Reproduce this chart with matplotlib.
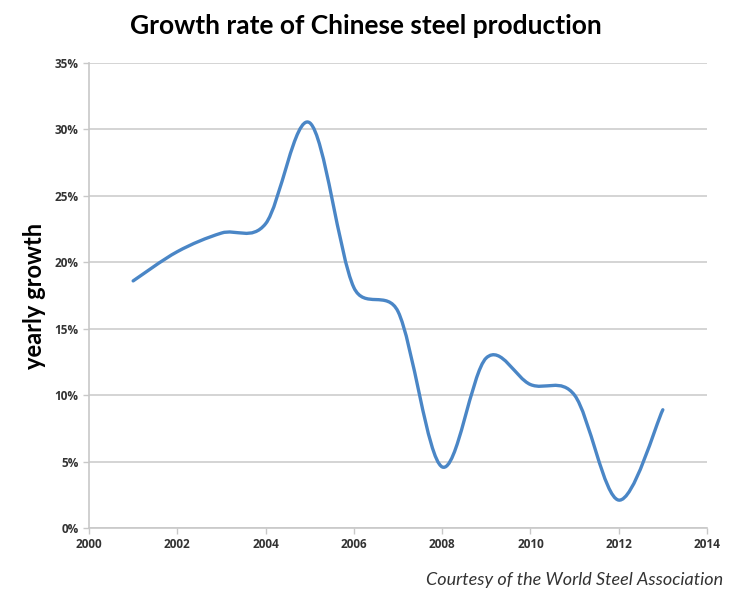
import matplotlib
matplotlib.use('Agg')
import matplotlib.pyplot as plt
import numpy as np
from matplotlib.path import Path
from matplotlib.patches import PathPatch
from matplotlib.ticker import FuncFormatter

years = [2001, 2002, 2003, 2004, 2005, 2006, 2007, 2008, 2009, 2010, 2011, 2012, 2013]
growth = [18.6, 20.8, 22.2, 22.9, 30.5, 18.1, 16.3, 4.6, 12.8, 10.8, 10.0, 2.1, 8.9]

title = 'Growth rate of Chinese steel production'
y_label = 'yearly growth'
credit = 'Courtesy of the World Steel Association'


def smooth_path(ax, xs, ys, k=1 / 6):
    # Excel-style smoothed line: bezier handles capped at half the segment
    # length (measured on screen)
    data = np.column_stack([xs, ys]).astype(float)
    scr = ax.transData.transform(data)
    n = len(data)
    verts = [tuple(data[0])]
    codes = [Path.MOVETO]
    for i in range(n - 1):
        i0, i1, i2, i3 = max(i - 1, 0), i, i + 1, min(i + 2, n - 1)
        d12 = np.hypot(*(scr[i2] - scr[i1]))
        d02 = np.hypot(*(scr[i2] - scr[i0]))
        d13 = np.hypot(*(scr[i3] - scr[i1]))
        f0 = k if d02 * k < d12 / 2 else d12 / 2 / d02
        f1 = k if d13 * k < d12 / 2 else d12 / 2 / d13
        c1 = data[i1] + (data[i2] - data[i0]) * f0
        c2 = data[i2] - (data[i3] - data[i1]) * f1
        verts += [tuple(c1), tuple(c2), tuple(data[i2])]
        codes += [Path.CURVE4] * 3
    return Path(verts, codes)


fig = plt.figure(figsize=(7.32, 5.95), dpi=100)
ax = fig.add_axes([0.1216, 0.1126, 0.8442, 0.7815])

ax.set_xlim(2000, 2014)
ax.set_ylim(0, 35)
ax.set_xticks(range(2000, 2015, 2))
ax.set_yticks(range(0, 36, 5))
ax.yaxis.set_major_formatter(FuncFormatter(lambda v, p: '{:d}%'.format(int(v))))

ax.add_patch(PathPatch(smooth_path(ax, years, growth), facecolor='none',
                       edgecolor='#4a86c6', linewidth=2.4,
                       capstyle='round', joinstyle='round', zorder=3))

ax.grid(axis='y', color='#d4d4d4', linewidth=1.4)
ax.set_axisbelow(True)
for s in ['top', 'right']:
    ax.spines[s].set_visible(False)
for s in ['left', 'bottom']:
    ax.spines[s].set_color('#c8c8c8')
    ax.spines[s].set_linewidth(1.2)
ax.tick_params(axis='both', direction='out', length=4, width=1, color='#c8c8c8',
               labelsize=8.5, labelcolor='#333333')
for lab in ax.get_xticklabels() + ax.get_yticklabels():
    lab.set_fontweight('bold')
    lab.set_family('Open Sans')

ax.set_ylabel(y_label, fontsize=17, fontweight='bold', family='Lato', labelpad=6)
fig.text(0.5, 0.957, title, ha='center', va='center', fontsize=19,
         fontweight='bold', family='Lato')
fig.text(0.988, 0.012, credit, ha='right', va='bottom', fontsize=13,
         style='italic', family='Lato', color='#333333')

fig.savefig('out.png', dpi=100)
